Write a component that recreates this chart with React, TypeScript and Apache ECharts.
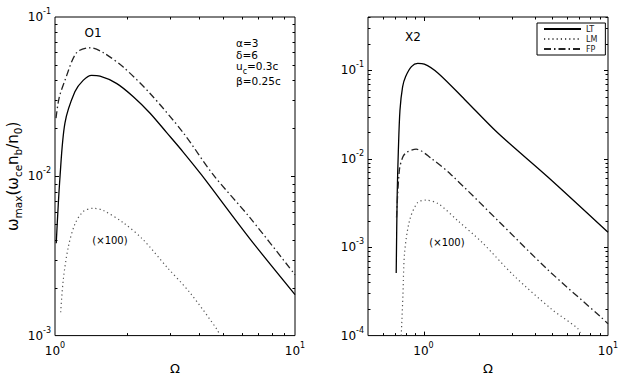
import React, { useEffect, useRef } from 'react';
import * as echarts from 'echarts';

// ---- O1 panel (left) ----
const o1LTx = [1.012, 1.049, 1.10, 1.21, 1.31, 1.42, 1.54, 1.81, 2.12, 2.49, 2.92, 3.42, 4.08, 6.49, 10];
const o1LTy = [0.0038, 0.0099, 0.0216, 0.0339, 0.040, 0.043, 0.0426, 0.0382, 0.0316, 0.0249, 0.0188, 0.0142, 0.0102, 0.00405, 0.00181];
const o1LMx = [1.056, 1.083, 1.136, 1.21, 1.31, 1.44, 1.59, 1.93, 2.33, 2.92, 3.65, 4.72, 4.87];
const o1LMy = [0.0014, 0.00225, 0.0036, 0.0050, 0.0060, 0.0063, 0.0061, 0.0051, 0.0040, 0.0027, 0.00186, 0.0011, 0.001];
const o1FPx = [1.01, 1.04, 1.10, 1.23, 1.40, 1.59, 1.93, 2.49, 3.42, 4.57, 6.49, 10];
const o1FPy = [0.0232, 0.031, 0.040, 0.0597, 0.0641, 0.0597, 0.0483, 0.0331, 0.0188, 0.0102, 0.0055, 0.00241];

// ---- X2 panel (right) ----
const x2LTx = [0.711, 0.72, 0.73, 0.745, 0.77, 0.80, 0.86, 0.93, 1.01, 1.20, 1.67, 2.53, 4.72, 10];
const x2LTy = [0.00051, 0.004, 0.012, 0.035, 0.065, 0.085, 0.11, 0.1197, 0.1175, 0.0927, 0.0468, 0.0195, 0.0062, 0.00147];
const x2LMx = [0.757, 0.773, 0.789, 0.84, 0.93, 1.03, 1.20, 1.53, 2.06, 3.11, 4.93, 6.86, 7.16];
const x2LMy = [0.0001, 0.00028, 0.00085, 0.0020, 0.0032, 0.0034, 0.0031, 0.0020, 0.00115, 0.00047, 0.00020, 0.00012, 0.0001];
const x2FPx = [0.714, 0.74, 0.773, 0.81, 0.913, 1.10, 1.41, 2.53, 4.72, 9.18, 10];
const x2FPy = [0.00216, 0.0075, 0.0105, 0.0118, 0.0128, 0.0101, 0.0066, 0.0020, 0.000555, 0.000161, 0.000136];

// ---- axis ranges and ticks ----
const o1XRange = [1, 10];
const o1YRange = [0.001, 0.1];
const x2XRange = [0.5, 10];
const x2YRange = [0.0001, 0.4];

const o1XMajor = [1, 10];
const o1XMinor = [2, 3, 4, 5, 6, 7, 8, 9];
const o1YMajor = [0.001, 0.01, 0.1];
const o1YMinor = [0.002, 0.003, 0.004, 0.005, 0.006, 0.007, 0.008, 0.009, 0.02, 0.03, 0.04, 0.05, 0.06, 0.07, 0.08, 0.09];
const x2XMajor = [1, 10];
const x2XMinor = [0.6, 0.7, 0.8, 0.9, 2, 3, 4, 5, 6, 7, 8, 9];
const x2YMajor = [0.0001, 0.001, 0.01, 0.1];
const x2YMinor = [0.0002, 0.0003, 0.0004, 0.0005, 0.0006, 0.0007, 0.0008, 0.0009, 0.002, 0.003, 0.004, 0.005, 0.006, 0.007, 0.008, 0.009, 0.02, 0.03, 0.04, 0.05, 0.06, 0.07, 0.08, 0.09, 0.2, 0.3, 0.4];

const seriesNames = ['LT', 'LM', 'FP'];

const FONT = '"DejaVu Sans", "Liberation Sans", Arial, sans-serif';

const pairs = (xs: number[], ys: number[]) => xs.map((x, i) => [x, ys[i]]);

const powLabel = (v: number) => {
  const e = Math.log10(v);
  const r = Math.round(e);
  if (Math.abs(e - r) > 1e-6) return '';
  return '{b|10}{sup|' + r + '}';
};

const labelRich = {
  b: { fontSize: 12, fontFamily: FONT, color: '#000' },
  sup: { fontSize: 8, fontFamily: FONT, color: '#000', padding: [0, 0, 11, 0] },
};

function tickSeries(idx: number, values: number[], dim: 'x' | 'y', ref: number, len: number) {
  return {
    type: 'custom',
    xAxisIndex: idx,
    yAxisIndex: idx,
    silent: true,
    z: 1,
    data: values.map((v) => (dim === 'x' ? [v, ref] : [ref, v])),
    renderItem: (params: any, api: any) => {
      const cs = params.coordSys;
      const p = api.coord([api.value(0), api.value(1)]);
      const style = { stroke: '#000', lineWidth: 1 };
      if (dim === 'x') {
        const x = Math.round(p[0]) + 0.5;
        return {
          type: 'group',
          children: [
            { type: 'line', shape: { x1: x, y1: cs.y + cs.height, x2: x, y2: cs.y + cs.height - len }, style },
            { type: 'line', shape: { x1: x, y1: cs.y, x2: x, y2: cs.y + len }, style },
          ],
        };
      }
      const y = Math.round(p[1]) + 0.5;
      return {
        type: 'group',
        children: [
          { type: 'line', shape: { x1: cs.x, y1: y, x2: cs.x + len, y2: y }, style },
          { type: 'line', shape: { x1: cs.x + cs.width, y1: y, x2: cs.x + cs.width - len, y2: y }, style },
        ],
      };
    },
  };
}

function curve(name: string, idx: number, xs: number[], ys: number[]) {
  const styles: Record<string, any> = {
    LT: { color: '#000', width: 1.3, type: 'solid' },
    LM: { color: '#555', width: 1.2, type: [1.2, 3] },
    FP: { color: '#222', width: 1.3, type: [7, 3, 1.5, 3] },
  };
  return {
    type: 'line',
    name,
    xAxisIndex: idx,
    yAxisIndex: idx,
    data: pairs(xs, ys),
    symbol: 'none',
    smooth: 0.3,
    z: 3,
    lineStyle: styles[name],
    itemStyle: { color: styles[name].color },
  };
}

function xAxisOpt(idx: number, range: number[]) {
  return {
    type: 'log',
    logBase: 10,
    gridIndex: idx,
    min: range[0],
    max: range[1],
    name: 'Ω',
    nameLocation: 'middle',
    nameGap: 24,
    nameTextStyle: { fontSize: 13, fontFamily: FONT, color: '#000' },
    axisLine: { show: false },
    axisTick: { show: false },
    splitLine: { show: false },
    axisLabel: { margin: 6, formatter: powLabel, rich: labelRich, showMinLabel: true, showMaxLabel: true },
  };
}

function yAxisOpt(idx: number, range: number[], withName: boolean) {
  const o: any = {
    type: 'log',
    logBase: 10,
    gridIndex: idx,
    min: range[0],
    max: range[1],
    axisLine: { show: false },
    axisTick: { show: false },
    splitLine: { show: false },
    axisLabel: { margin: 4, formatter: powLabel, rich: labelRich, showMinLabel: true, showMaxLabel: true },
  };
  if (withName) {
    o.name = '{n|ω}{s|max}{n|(ω}{s|ce}{n|n}{s|b}{n|/n}{s|0}{n|)}';
    o.nameLocation = 'middle';
    o.nameRotate = 90;
    o.nameGap = 21;
    o.nameTextStyle = {
      rich: {
        n: { fontSize: 15, fontFamily: FONT, color: '#000' },
        s: { fontSize: 10.5, fontFamily: FONT, color: '#000', padding: [10, 0, 0, 0] },
      },
    };
  }
  return o;
}

export default function App() {
  const ref = useRef<HTMLDivElement>(null);
  useEffect(() => {
    if (!ref.current) return;
    const chart = echarts.init(ref.current, undefined, { renderer: 'svg' });
    const txt = (x: number, y: number, text: string, fontSize = 12, align = 'center') => ({
      type: 'text',
      x,
      y,
      style: { text, fontSize, fontFamily: FONT, fill: '#000', align, verticalAlign: 'middle' },
    });
    chart.setOption({
      animation: false,
      backgroundColor: '#fff',
      grid: [
        { left: 55, top: 17, width: 240, height: 325, show: true, borderColor: '#000', borderWidth: 1, backgroundColor: 'transparent' },
        { left: 368, top: 17, width: 240, height: 325, show: true, borderColor: '#000', borderWidth: 1, backgroundColor: 'transparent' },
      ],
      xAxis: [xAxisOpt(0, o1XRange), xAxisOpt(1, x2XRange)],
      yAxis: [yAxisOpt(0, o1YRange, true), yAxisOpt(1, x2YRange, false)],
      legend: {
        data: seriesNames,
        orient: 'vertical',
        left: 537,
        top: 23,
        itemWidth: 37,
        itemHeight: 8,
        itemGap: 2,
        padding: [2, 8, 2, 6],
        borderColor: '#000',
        borderWidth: 1,
        backgroundColor: '#fff',
        itemStyle: { color: 'rgba(0,0,0,0)', borderWidth: 0, opacity: 0 },
        textStyle: { fontSize: 8, fontFamily: FONT, color: '#222' },
      },
      series: [
        tickSeries(0, o1XMinor, 'x', o1YRange[0], 2.5),
        tickSeries(0, o1YMinor, 'y', o1XRange[0], 2.5),
        tickSeries(0, o1XMajor.filter((v) => v > o1XRange[0] && v < o1XRange[1]), 'x', o1YRange[0], 4),
        tickSeries(0, o1YMajor.filter((v) => v > o1YRange[0] && v < o1YRange[1]), 'y', o1XRange[0], 4),
        tickSeries(1, x2XMinor, 'x', x2YRange[0], 2.5),
        tickSeries(1, x2YMinor, 'y', x2XRange[0], 2.5),
        tickSeries(1, x2XMajor.filter((v) => v > x2XRange[0] && v < x2XRange[1]), 'x', x2YRange[0], 4),
        tickSeries(1, x2YMajor.filter((v) => v > x2YRange[0] && v < x2YRange[1]), 'y', x2XRange[0], 4),
        curve('LT', 0, o1LTx, o1LTy),
        curve('LM', 0, o1LMx, o1LMy),
        curve('FP', 0, o1FPx, o1FPy),
        curve('LT', 1, x2LTx, x2LTy),
        curve('LM', 1, x2LMx, x2LMy),
        curve('FP', 1, x2FPx, x2FPy),
      ],
      graphic: [
        txt(93, 33, 'O1', 12),
        txt(413, 37, 'X2', 12),
        txt(110, 240, '(×100)', 10),
        txt(447, 242, '(×100)', 10),
        txt(236, 43, 'α=3', 10.5, 'left'),
        txt(236, 54.5, 'δ=6', 10.5, 'left'),
        {
          type: 'text',
          x: 236,
          y: 66,
          style: {
            text: '{n|u}{s|c}{n|=0.3c}',
            fontFamily: FONT,
            fill: '#000',
            align: 'left',
            verticalAlign: 'middle',
            rich: {
              n: { fontSize: 10.5, fontFamily: FONT, fill: '#000' },
              s: { fontSize: 8, fontFamily: FONT, fill: '#000', padding: [10, 0, 0, 0] },
            },
          },
        },
        txt(236, 81, 'β=0.25c', 10.5, 'left'),
      ],
    });
    return () => chart.dispose();
  }, []);
  return <div ref={ref} style={{ position: 'fixed', left: 0, top: 0, width: 640, height: 380 }} />;
}
